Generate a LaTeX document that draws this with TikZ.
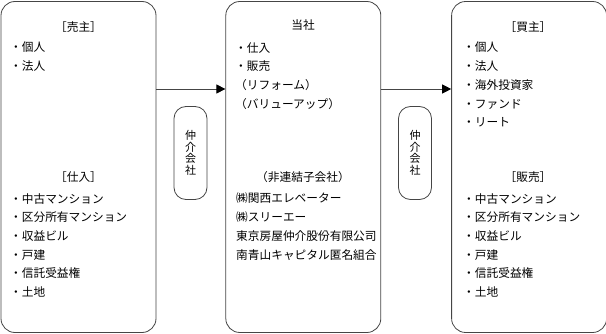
\documentclass[tikz,border=0pt]{standalone}
\usepackage{fontspec}
\setmainfont{Noto Sans CJK JP}
\usetikzlibrary{positioning,arrows.meta}
\definecolor{cLine}{HTML}{454545}
\tikzset{
  panel/.style ={draw=cLine, rounded corners=14pt, line width=0.8pt,
                 minimum width=155pt, minimum height=331pt, inner sep=0pt},
  agent/.style ={draw=cLine, rounded corners=12pt, line width=0.8pt,
                 minimum width=33pt, minimum height=93pt, inner sep=0pt,
                 align=center, font=\fontsize{11}{11.6}\selectfont},
  head/.style  ={font=\fontsize{11.7}{18.7}\selectfont, inner sep=0pt},
  list/.style  ={font=\fontsize{11.7}{18.7}\selectfont, align=left,
                 inner sep=0pt, anchor=north west},
  arr/.style   ={-{Triangle[length=9pt,width=9pt,color=black]}, draw=cLine, line width=0.8pt},
}

\begin{document}
\begin{tikzpicture}[x=1pt,y=-1pt]
\useasboundingbox (0,0) rectangle (606,334);

% three panels
\node[panel] (seller) at (78.5,167) {};
\node[panel, right=69pt of seller] (company) {};
\node[panel, right=70pt of company] (buyer) {};

% brokers
\node[agent] (agentA) at (190.5,153) {仲\\介\\会\\社};
\node[agent] (agentB) at (415,153) {仲\\介\\会\\社};

\draw[arr] ([yshift=78pt]seller.east) -- ([yshift=78pt]company.west);
\draw[arr] ([yshift=78pt]company.east) -- ([yshift=78pt]buyer.west);

% seller side
\node[head] (sellerhead) at (78.5,27) {［売主］};
\node[list] (sellerlist) at (10,42) {・個人\\・法人};
\node[head] (buyhead) at (78.5,177) {［仕入］};
\node[list] (buylist) at (10,193)
   {・中古マンション\\・区分所有マンション\\・収益ビル\\・戸建\\・信託受益権\\・土地};

% company
\node[head] (companyhead) at (303,25) {当社};
\node[list] (companylist) at (235,42)
   {・仕入\\・販売\\（リフォーム）\\（バリューアップ）};
\node[head] (subhead) at (303,177) {（非連結子会社）};
\node[list] (sublist) at (236,193)
   {㈱関西エレベーター\\㈱スリーエー\\東京房屋仲介股份有限公司\\南青山キャピタル匿名組合};

% buyer side
\node[head] (buyerhead) at (528,27) {［買主］};
\node[list] (buyerlist) at (463,42)
   {・個人\\・法人\\・海外投資家\\・ファンド\\・リート};
\node[head] (sellhead) at (528,177) {［販売］};
\node[list] (selllist) at (463,193)
   {・中古マンション\\・区分所有マンション\\・収益ビル\\・戸建\\・信託受益権\\・土地};
\end{tikzpicture}
\end{document}
